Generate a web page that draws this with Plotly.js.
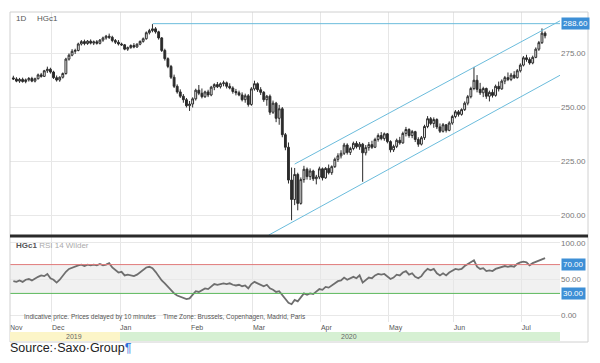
<!DOCTYPE html>
<html>
<head>
<meta charset="utf-8">
<script src="https://cdn.plot.ly/plotly-2.35.2.min.js"></script>
<style>html,body{margin:0;padding:0;background:#fff;}#chart{width:600px;height:363px;}</style>
</head>
<body>
<div id="chart"></div>
<script>
// ---- Data: HGc1 daily candles (Nov 2019 - Jul 2020) ----
const dates = [
'2019-11-13','2019-11-14','2019-11-15','2019-11-18','2019-11-19','2019-11-20','2019-11-21','2019-11-22','2019-11-25','2019-11-26','2019-11-27','2019-11-28','2019-11-29',
'2019-12-02','2019-12-03','2019-12-04','2019-12-05','2019-12-06','2019-12-09','2019-12-10','2019-12-11','2019-12-12','2019-12-13','2019-12-16','2019-12-17','2019-12-18','2019-12-19','2019-12-20','2019-12-23','2019-12-24','2019-12-25','2019-12-26','2019-12-27','2019-12-30','2019-12-31',
'2020-01-01','2020-01-02','2020-01-03','2020-01-06','2020-01-07','2020-01-08','2020-01-09','2020-01-10','2020-01-13','2020-01-14','2020-01-15','2020-01-16','2020-01-17','2020-01-20','2020-01-21','2020-01-22','2020-01-23','2020-01-24','2020-01-27','2020-01-28','2020-01-29','2020-01-30','2020-01-31',
'2020-02-03','2020-02-04','2020-02-05','2020-02-06','2020-02-07','2020-02-10','2020-02-11','2020-02-12','2020-02-13','2020-02-14','2020-02-17','2020-02-18','2020-02-19','2020-02-20','2020-02-21','2020-02-24','2020-02-25','2020-02-26','2020-02-27','2020-02-28',
'2020-03-02','2020-03-03','2020-03-04','2020-03-05','2020-03-06','2020-03-09','2020-03-10','2020-03-11','2020-03-12','2020-03-13','2020-03-16','2020-03-17','2020-03-18','2020-03-19','2020-03-20','2020-03-23','2020-03-24','2020-03-25','2020-03-26','2020-03-27','2020-03-30','2020-03-31',
'2020-04-01','2020-04-02','2020-04-03','2020-04-06','2020-04-07','2020-04-08','2020-04-09','2020-04-10','2020-04-13','2020-04-14','2020-04-15','2020-04-16','2020-04-17','2020-04-20','2020-04-21','2020-04-22','2020-04-23','2020-04-24','2020-04-27','2020-04-28','2020-04-29','2020-04-30',
'2020-05-01','2020-05-04','2020-05-05','2020-05-06','2020-05-07','2020-05-08','2020-05-11','2020-05-12','2020-05-13','2020-05-14','2020-05-15','2020-05-18','2020-05-19','2020-05-20','2020-05-21','2020-05-22','2020-05-25','2020-05-26','2020-05-27','2020-05-28','2020-05-29',
'2020-06-01','2020-06-02','2020-06-03','2020-06-04','2020-06-05','2020-06-08','2020-06-09','2020-06-10','2020-06-11','2020-06-12','2020-06-15','2020-06-16','2020-06-17','2020-06-18','2020-06-19','2020-06-22','2020-06-23','2020-06-24','2020-06-25','2020-06-26','2020-06-29','2020-06-30',
'2020-07-01','2020-07-02','2020-07-03','2020-07-06','2020-07-07','2020-07-08','2020-07-09','2020-07-10'
];
const openP = [
263.5,263.0,262.0,262.8,261.8,262.6,263.2,262.0,263.1,264.9,264.2,266.8,267.5,
266.2,263.6,262.5,263.8,265.5,272.2,274.0,275.8,276.2,279.2,280.3,279.4,280.5,279.6,280.2,279.5,281.0,282.0,282.8,282.3,280.8,280.0,
279.2,278.8,276.8,277.5,278.5,277.8,279.1,280.4,281.6,284.4,285.4,286.2,284.8,282.0,276.2,272.4,268.8,263.8,259.6,257.0,255.0,253.4,250.6,
251.4,253.8,257.8,256.4,254.8,257.0,255.6,259.2,260.4,259.4,260.8,261.2,259.6,258.8,257.2,256.6,255.6,253.4,255.2,251.2,
258.4,260.8,258.0,256.8,253.4,255.0,247.6,251.8,244.8,249.2,237.2,231.4,216.2,207.2,218.8,205.4,216.4,221.2,217.8,220.4,216.8,217.6,
221.4,217.2,221.6,219.6,222.4,225.8,227.4,228.6,232.4,229.0,230.8,233.2,231.6,232.8,228.8,231.2,232.6,231.4,235.0,236.8,235.4,237.6,
234.0,230.2,231.8,234.6,233.4,237.8,239.6,236.8,238.6,235.0,232.8,235.8,241.0,244.6,242.4,244.2,240.8,238.8,241.8,239.2,242.6,
245.6,247.8,246.6,248.8,251.8,254.8,258.6,262.4,258.2,256.6,258.6,255.0,256.8,255.4,259.6,258.4,262.0,263.6,262.8,264.8,263.6,266.8,
269.4,272.8,272.0,270.4,273.0,276.8,279.8,284.2
];
const highP = [
264.5,263.8,263.5,263.6,263.2,263.9,264.0,263.6,265.5,265.8,267.2,268.7,268.2,
266.8,264.6,264.2,266.0,272.8,274.8,276.8,277.0,279.8,281.0,281.2,281.0,281.3,280.8,281.0,281.5,282.6,283.4,284.0,283.0,281.5,281.0,
279.8,279.2,278.0,279.0,279.6,279.5,280.8,282.2,285.0,286.2,288.4,287.0,285.3,282.4,277.0,273.0,269.5,265.0,260.5,258.2,256.0,254.2,252.8,
254.5,258.5,260.2,258.6,257.6,258.0,259.8,261.0,261.6,261.4,262.2,261.8,261.0,259.6,258.4,257.6,256.8,256.2,256.0,259.2,
262.2,261.4,259.2,257.4,255.6,255.8,253.0,252.4,251.0,250.0,238.0,233.6,222.0,221.8,219.6,217.4,222.8,222.0,221.6,221.0,218.6,222.4,
222.0,222.2,223.4,223.0,226.6,228.6,230.0,233.4,233.2,231.6,234.0,234.2,233.8,233.4,232.4,233.8,234.4,235.8,237.8,238.4,238.2,238.0,
234.6,232.6,235.4,236.2,238.6,240.8,240.2,239.4,239.0,236.0,236.6,241.8,245.8,245.4,245.2,244.8,242.4,242.6,242.0,243.4,246.4,
248.6,248.6,249.4,252.6,255.6,259.4,268.6,264.8,261.2,259.4,259.0,257.6,258.2,260.4,261.8,262.8,264.4,266.0,265.8,266.6,267.6,270.2,
273.6,274.2,273.0,273.8,277.6,280.6,286.4,285.0
];
const lowP = [
262.5,261.5,261.2,261.3,261.0,261.8,261.5,261.4,262.8,263.6,263.9,265.8,265.5,
263.0,261.8,261.7,263.2,265.0,271.5,273.5,274.6,275.8,278.5,278.6,278.8,279.0,278.7,278.9,279.0,280.2,281.2,281.5,280.0,279.2,278.5,
278.3,276.3,276.0,277.0,277.2,277.4,278.6,279.8,281.2,283.6,284.6,284.0,281.2,275.5,271.5,268.0,263.0,258.8,256.2,254.2,252.0,249.8,248.2,
249.8,253.0,255.5,254.0,254.2,254.6,255.0,257.8,258.8,258.6,259.6,258.6,258.2,256.2,255.4,255.0,252.6,252.0,250.2,250.6,
257.6,257.0,255.6,252.4,250.6,246.4,246.8,243.0,241.8,236.0,230.0,214.6,197.6,204.6,202.2,204.8,215.0,216.4,216.2,215.8,214.2,216.6,
216.0,216.8,218.8,218.6,221.8,224.6,226.2,227.8,228.0,227.8,230.0,230.8,230.2,215.4,227.6,229.8,230.6,231.0,234.0,234.6,234.4,233.2,
229.0,229.2,231.0,232.6,233.0,236.4,235.8,235.6,233.8,231.6,232.2,234.8,240.2,241.6,240.4,239.8,238.0,238.2,238.2,238.8,241.8,
244.8,245.6,246.0,248.2,250.8,254.0,257.8,256.8,255.6,254.6,253.8,252.6,254.4,254.8,257.2,258.0,260.6,262.0,262.0,263.0,263.2,266.0,
268.8,271.0,269.6,269.8,272.6,276.0,279.2,281.8
];
const closeP = [
263.0,262.0,262.8,261.8,262.6,263.2,262.0,263.1,264.9,264.2,266.8,267.5,266.2,
263.6,262.5,263.8,265.5,272.2,274.0,275.8,276.2,279.2,280.3,279.4,280.5,279.6,280.2,279.5,281.0,282.0,282.8,282.3,280.8,280.0,279.2,
278.8,276.8,277.5,278.5,277.8,279.1,280.4,281.6,284.4,285.4,286.2,284.8,282.0,276.2,272.4,268.8,263.8,259.6,257.0,255.0,253.4,250.6,251.4,
253.8,257.8,256.4,254.8,257.0,255.6,259.2,260.4,259.4,260.8,261.2,259.6,258.8,257.2,256.6,255.6,253.4,255.2,251.2,258.4,
260.8,258.0,256.8,253.4,255.0,247.6,251.8,244.8,249.2,237.2,231.4,216.2,207.2,218.8,205.4,216.4,221.2,217.8,220.4,216.8,217.6,221.4,
217.2,221.6,219.6,222.4,225.8,227.4,228.6,232.4,229.0,230.8,233.2,231.6,232.8,228.8,231.2,232.6,231.4,235.0,236.8,235.4,237.6,234.0,
230.2,231.8,234.6,233.4,237.8,239.6,236.8,238.6,235.0,232.8,235.8,241.0,244.6,242.4,244.2,240.8,238.8,241.8,239.2,242.6,245.6,
247.8,246.6,248.8,251.8,254.8,258.6,262.4,258.2,256.6,258.6,255.0,256.8,255.4,259.6,258.4,262.0,263.6,262.8,264.8,263.6,266.8,269.4,
272.8,272.0,270.4,273.0,276.8,279.8,284.2,283.0
];
const rsi = [
47,46,48,46,49,50,48,51,53,55,54,57,51,
49,45,49,55,60,64,66,67,69,70,68,70,69,70,69,71,69,70,72,66,62,59,
60,55,56,55,54,56,59,63,66,67,65,60,54,48,44,39,34,30,27,25,24,22,23,
28,33,32,35,37,36,40,43,42,43,44,43,44,42,41,42,40,41,37,43,
46,44,42,40,42,37,35,32,33,28,22,17,15,21,19,24,30,28,30,29,33,36,
35,39,38,41,45,47,48,52,49,51,53,51,55,45,49,52,51,55,57,56,57,54,
50,52,56,55,59,61,56,58,53,51,54,60,64,62,64,58,55,58,55,59,62,
64,63,64,68,71,73,76,67,64,65,61,62,61,64,65,67,68,67,68,67,71,73,
74,73,69,72,74,76,78,79
];
// Axis ticks / labels
const monthTicks = ['2019-11-12 10:00','2019-12-02','2020-01-01','2020-02-03','2020-03-02','2020-04-01','2020-05-01','2020-06-01','2020-07-01'];
const monthLabels = ['Nov','Dec','Jan','Feb','Mar','Apr','May','Jun','Jul'];
const priceTicks = [200, 225, 250, 275];
const rsiTicks = [0, 50, 100];
const rsiLevels = [70, 30];
const resistance = 288.60;
// Drawn trend lines: [date, price] endpoints
const channelUpper = [['2020-03-19 12:00', 223.6], ['2020-07-17 20:00', 290.3]];
const channelLower = [['2020-03-09 02:00', 190.7], ['2020-07-17 20:00', 265.1]];
const resistanceStart = '2020-01-15 14:00';
const years = [{label:'2019', from:'2019-11-12 10:00', to:'2020-01-01', mid:'2019-12-11', color:'#fcf5c8'},
               {label:'2020', from:'2020-01-01', to:'2020-07-17 08:00', mid:'2020-04-14', color:'#d6f0d3'}];

const xRange = ['2019-11-12 10:00', '2020-07-17 08:00'];
const xd = dates.map(d => d + ' 12:00');
const FONT = 'Liberation Sans, Arial, sans-serif';
const lineBlue = '#6bbcdc';

const candle = {
  type: 'candlestick', x: xd, open: openP, high: highP, low: lowP, close: closeP,
  xaxis: 'x', yaxis: 'y',
  increasing: {line: {color: '#2b2b2b', width: 1}, fillcolor: '#ffffff'},
  decreasing: {line: {color: '#2b2b2b', width: 1}, fillcolor: '#2b2b2b'},
  whiskerwidth: 0, hoverinfo: 'skip'
};
const rsiLine = {
  type: 'scatter', mode: 'lines', x: xd, y: rsi, xaxis: 'x2', yaxis: 'y2',
  line: {color: '#6e6e6e', width: 1.8}, hoverinfo: 'skip'
};

const splitY = 86/310;
const commonX = {
  type: 'date', range: xRange, rangebreaks: [{bounds: ['sat', 'mon']}],
  tickvals: monthTicks, showgrid: true, gridcolor: '#e6e6e6', gridwidth: 1,
  zeroline: false, showline: false, ticks: '', fixedrange: true
};

const shapes = [
  // RSI band
  {type:'rect', xref:'paper', yref:'y2', x0:0, x1:1, y0:rsiLevels[1], y1:rsiLevels[0], fillcolor:'#f1f1f1', line:{width:0}, layer:'below'},
  {type:'line', xref:'paper', yref:'y2', x0:0, x1:1, y0:rsiLevels[0], y1:rsiLevels[0], line:{color:'#e07a7a', width:1}},
  {type:'line', xref:'paper', yref:'y2', x0:0, x1:1, y0:rsiLevels[1], y1:rsiLevels[1], line:{color:'#5cb85c', width:1}},
  // trend lines
  {type:'line', xref:'x', yref:'y', x0:resistanceStart, x1:xRange[1], y0:resistance, y1:resistance, line:{color:lineBlue, width:1}},
  {type:'line', xref:'x', yref:'y', x0:channelUpper[0][0], y0:channelUpper[0][1], x1:channelUpper[1][0], y1:channelUpper[1][1], line:{color:lineBlue, width:1}},
  {type:'line', xref:'x', yref:'y', x0:channelLower[0][0], y0:channelLower[0][1], x1:channelLower[1][0], y1:channelLower[1][1], line:{color:lineBlue, width:1}},
  // outer frame
  {type:'rect', xref:'paper', yref:'paper', x0:0, x1:578/550, y0:-20/310, y1:1, line:{color:'#d0d0d0', width:1}, fillcolor:'rgba(0,0,0,0)'},
  // panel separator
  {type:'line', xref:'paper', yref:'paper', x0:0, x1:578/550, y0:splitY, y1:splitY, line:{color:'#2a2a2a', width:3}}
];
years.forEach(yr => shapes.push({type:'rect', xref:'x2', yref:'paper', x0:yr.from, x1:yr.to, y0:-19/310, y1:-10/310, fillcolor:yr.color, line:{width:0}}));

const annotations = [
  {xref:'paper', yref:'paper', x:4/550, y:(322-18)/310, xanchor:'left', yanchor:'middle', showarrow:false, text:'1D', font:{family:FONT, size:8, color:'#555'}},
  {xref:'paper', yref:'paper', x:25/550, y:(322-18)/310, xanchor:'left', yanchor:'middle', showarrow:false, text:'HGc1', font:{family:FONT, size:8, color:'#555'}},
  {xref:'paper', yref:'paper', x:4/550, y:(322-245)/310, xanchor:'left', yanchor:'middle', showarrow:false, text:'<b>HGc1</b> <span style="color:#aaaaaa">RSI 14 Wilder</span>', font:{family:FONT, size:8, color:'#555'}},
  {xref:'paper', yref:'paper', x:12/550, y:(322-317)/310, xanchor:'left', yanchor:'middle', showarrow:false, text:'Indicative price. Prices delayed by 10 minutes&nbsp;&nbsp;&nbsp;&nbsp;Time Zone: Brussels, Copenhagen, Madrid, Paris', font:{family:FONT, size:6.5, color:'#555'}},
  {xref:'paper', yref:'y', x:551/550, y:resistance, xanchor:'left', yanchor:'middle', showarrow:false, text:resistance.toFixed(2), bgcolor:'#3d8fd6', borderpad:1, font:{family:FONT, size:8, color:'#ffffff'}},
  {xref:'paper', yref:'y2', x:551/550, y:rsiLevels[0], xanchor:'left', yanchor:'middle', showarrow:false, text:rsiLevels[0].toFixed(2), bgcolor:'#3d8fd6', borderpad:1, font:{family:FONT, size:8, color:'#ffffff'}},
  {xref:'paper', yref:'y2', x:551/550, y:rsiLevels[1], xanchor:'left', yanchor:'middle', showarrow:false, text:rsiLevels[1].toFixed(2), bgcolor:'#3d8fd6', borderpad:1, font:{family:FONT, size:8, color:'#ffffff'}},
  {xref:'paper', yref:'paper', x:-2/550, y:(322-348)/310, xanchor:'left', yanchor:'middle', showarrow:false, text:'Source:·Saxo·Group<span style="color:#2f6fd8">¶</span>', font:{family:FONT, size:12.5, color:'#222'}}
];
years.forEach(yr => annotations.push({xref:'x2', yref:'paper', x:yr.mid, y:-14.5/310, xanchor:'center', yanchor:'middle', showarrow:false, text:yr.label, font:{family:FONT, size:7, color:'#666'}}));

const layout = {
  width: 600, height: 363,
  margin: {l:10, r:40, t:12, b:41, pad:0},
  paper_bgcolor: '#ffffff', plot_bgcolor: '#ffffff',
  showlegend: false,
  boxgap: 0.15,
  xaxis: Object.assign({}, commonX, {anchor:'y', showticklabels:false, rangeslider:{visible:false}}),
  xaxis2: Object.assign({}, commonX, {anchor:'y2', showticklabels:true, ticktext: monthLabels, ticklabelposition:'outside right', tickfont:{family:FONT, size:7, color:'#555'}}),
  yaxis: {domain:[splitY, 1], range:[190.3, 294.0], side:'right', tickvals:priceTicks, tickformat:'.2f', ticks:'', tickfont:{family:FONT, size:8, color:'#777'}, gridcolor:'#e8e8e8', zeroline:false, fixedrange:true},
  yaxis2: {domain:[0, splitY], range:[-9.7, 109.7], side:'right', tickvals:rsiTicks, tickformat:'.2f', ticks:'', tickfont:{family:FONT, size:8, color:'#777'}, gridcolor:'#e8e8e8', zeroline:false, fixedrange:true},
  shapes: shapes,
  annotations: annotations
};

Plotly.newPlot('chart', [candle, rsiLine], layout, {displayModeBar:false, staticPlot:true});
</script>
</body>
</html>
